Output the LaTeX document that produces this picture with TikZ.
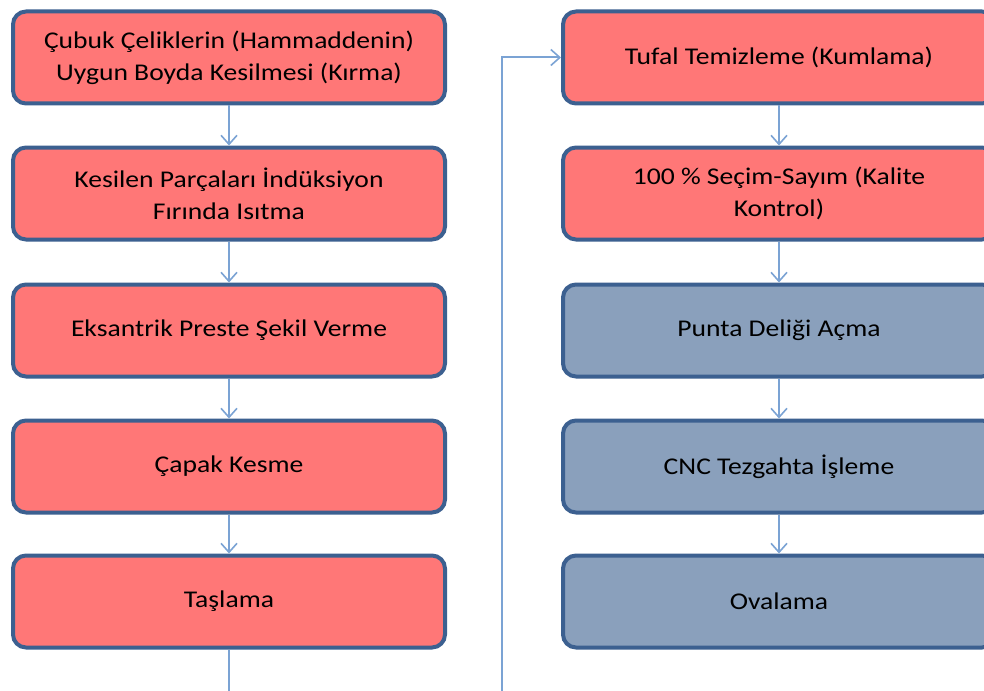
\documentclass[tikz,border=0pt]{standalone}
\usepackage{fontspec}
\setmainfont{Carlito}[FakeStretch=1.15]
\usetikzlibrary{arrows.meta}
\definecolor{boxred}{HTML}{FF7777}
\definecolor{boxblue}{HTML}{8AA0BC}
\definecolor{boxedge}{HTML}{3C6090}
\definecolor{connc}{HTML}{7BA3D4}
\tikzset{
  stepbox/.style={draw=boxedge, line width=4pt, rounded corners=13pt,
    minimum width=432pt, minimum height=92pt, align=center, inner sep=0pt,
    font=\fontsize{24}{32}\selectfont, text=black},
  redbox/.style={stepbox, fill=boxred},
  bluebox/.style={stepbox, fill=boxblue},
  conn/.style={draw=connc, line width=2pt, -{Straight Barb[length=9pt,width=16pt,line width=1.6pt]}},
  plain/.style={draw=connc, line width=2pt}
}
\begin{document}
\begin{tikzpicture}[x=1pt,y=-1pt]
\clip (0,0) rectangle (984,690);
\fill[white] (0,0) rectangle (984,690);
\node[redbox] (l1) at (229,57.5) {Çubuk Çeliklerin (Hammaddenin)\\Uygun Boyda Kesilmesi (Kırma)};
\node[redbox] (l2) at (229,193.5) {Kesilen Parçaları İndüksiyon\\Fırında Isıtma};
\node[redbox] (l3) at (229,330.5) {Eksantrik Preste Şekil Verme};
\node[redbox] (l4) at (229,466.5) {Çapak Kesme};
\node[redbox] (l5) at (229,601.5) {Taşlama};
\node[redbox] (r1) at (779,57.5) {Tufal Temizleme (Kumlama)};
\node[redbox] (r2) at (779,193.5) {100 \% Seçim-Sayım (Kalite\\Kontrol)};
\node[bluebox] (r3) at (779,330.5) {Punta Deliği Açma};
\node[bluebox] (r4) at (779,466.5) {CNC Tezgahta İşleme};
\node[bluebox] (r5) at (779,601.5) {Ovalama};
\coordinate (cl) at (229,700);
\coordinate (cr) at (502,700);
\draw[conn] (l1) -- (l2);
\draw[conn] (l2) -- (l3);
\draw[conn] (l3) -- (l4);
\draw[conn] (l4) -- (l5);
\draw[plain] (l5) -- (cl);
\draw[conn] (cr) |- (r1.west);
\draw[conn] (r1) -- (r2);
\draw[conn] (r2) -- (r3);
\draw[conn] (r3) -- (r4);
\draw[conn] (r4) -- (r5);
\end{tikzpicture}
\end{document}
